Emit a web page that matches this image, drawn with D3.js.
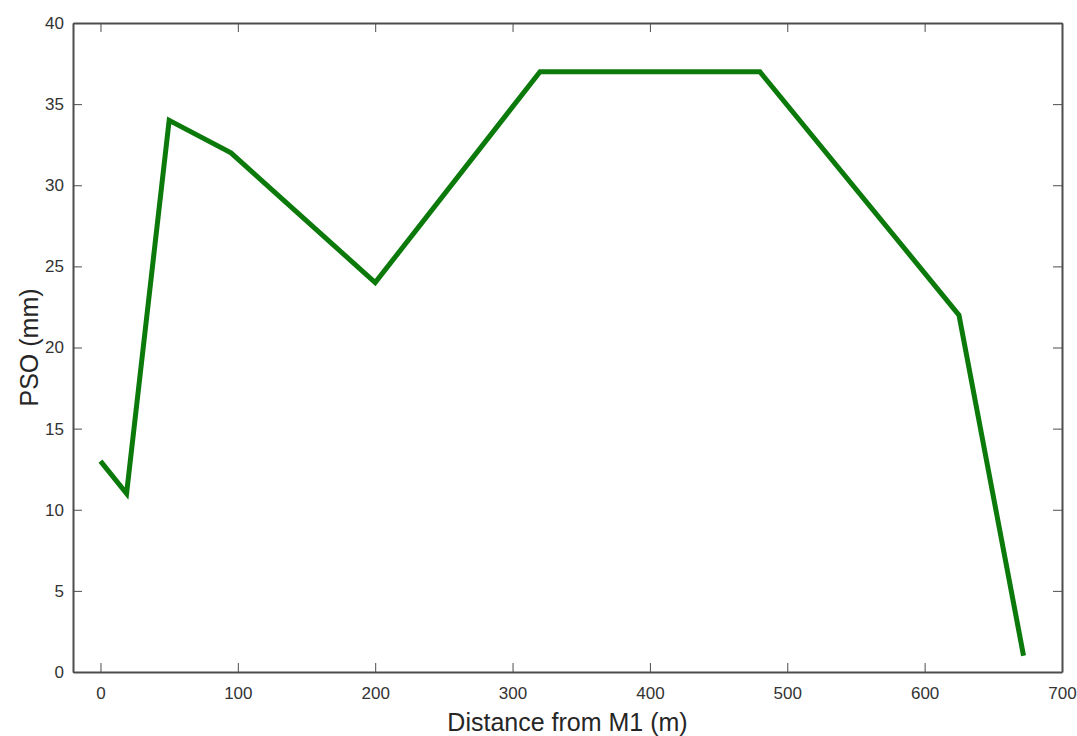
<!DOCTYPE html>
<html>
<head>
<meta charset="UTF-8">
<script src="https://cdn.jsdelivr.net/npm/d3@7"></script>
<style>
  body { margin: 0; background: #fff; }
  .axis path, .axis line { stroke: #4d4d4d; }
  .line { fill: none; stroke: #0b7a0b; stroke-width: 5px; stroke-linejoin: miter; }
</style>
</head>
<body>
<div id="chart"></div>
<script>
// distance from M1 (m) and PSO (mm)
var distance = [0, 19, 50, 95, 200, 320, 480, 625, 672];
var pso = [13, 11, 34, 32, 24, 37, 37, 22, 1];
var xTicks = [0, 100, 200, 300, 400, 500, 600, 700];
var yTicks = [0, 5, 10, 15, 20, 25, 30, 35, 40];

var width = 1077, height = 736;
var margin = {top: 23, right: 15, bottom: 64, left: 73};
var w = width - margin.left - margin.right;
var h = height - margin.top - margin.bottom;

var svg = d3.select("#chart").append("svg")
    .attr("width", width)
    .attr("height", height);

var g = svg.append("g")
    .attr("transform", "translate(" + margin.left + "," + margin.top + ")");

var x = d3.scaleLinear().domain([-20, 700]).range([0, w]);
var y = d3.scaleLinear().domain([0, 40]).range([h, 0]);

// bottom / left axes with inward ticks
g.append("g")
    .attr("class", "axis")
    .attr("transform", "translate(0," + h + ")")
    .call(d3.axisBottom(x).tickValues(xTicks).tickSize(-9).tickPadding(15).tickSizeOuter(0));

g.append("g")
    .attr("class", "axis")
    .call(d3.axisLeft(y).tickValues(yTicks).tickSize(-9).tickPadding(9).tickSizeOuter(0));

// top / right axes (box)
g.append("g")
    .attr("class", "axis")
    .call(d3.axisTop(x).tickValues(xTicks).tickSize(-9).tickFormat("").tickSizeOuter(0));

g.append("g")
    .attr("class", "axis")
    .attr("transform", "translate(" + w + ",0)")
    .call(d3.axisRight(y).tickValues(yTicks).tickSize(-9).tickFormat("").tickSizeOuter(0));

g.selectAll(".axis path").attr("stroke-width", 2);
g.selectAll(".axis text")
    .style("font-family", "Liberation Sans, Arial, sans-serif")
    .style("font-size", "17px")
    .style("fill", "#333");

var line = d3.line()
    .x(function (d, i) { return x(distance[i]); })
    .y(function (d) { return y(d); });

g.append("path")
    .datum(pso)
    .attr("class", "line")
    .attr("d", line);

svg.append("text")
    .attr("x", margin.left + w / 2)
    .attr("y", 731)
    .attr("text-anchor", "middle")
    .style("font-family", "Liberation Sans, Arial, sans-serif")
    .style("font-size", "25px")
    .style("fill", "#262626")
    .text("Distance from M1 (m)");

svg.append("text")
    .attr("transform", "translate(38," + (margin.top + h / 2) + ") rotate(-90)")
    .attr("text-anchor", "middle")
    .style("font-family", "Liberation Sans, Arial, sans-serif")
    .style("font-size", "25px")
    .style("fill", "#262626")
    .text("PSO (mm)");
</script>
</body>
</html>
